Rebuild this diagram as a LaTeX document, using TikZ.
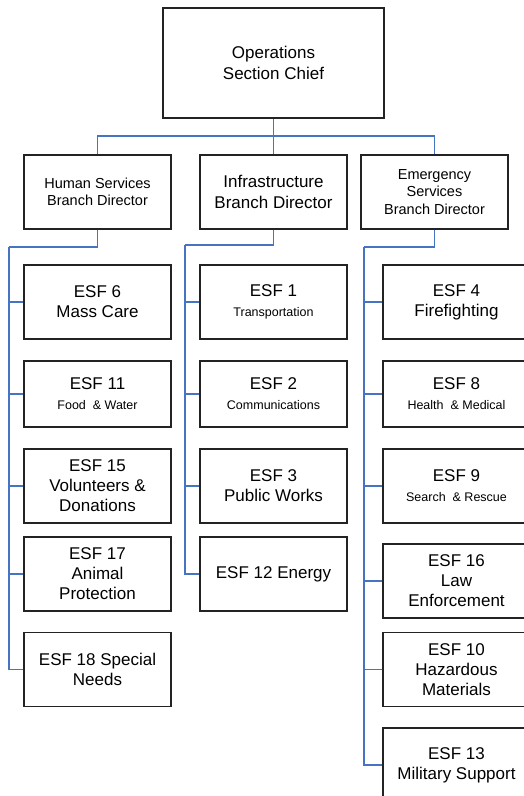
\documentclass[tikz,border=0pt]{standalone}
\usepackage{fontspec}
\setmainfont{Liberation Sans}
\usetikzlibrary{positioning}
\definecolor{L}{RGB}{70, 115, 196}
\definecolor{D}{RGB}{35, 35, 35}
\tikzset{
  box/.style={draw=D, line width=1.4pt, fill=white, minimum width=147pt,
    minimum height=74pt, inner sep=0pt, align=center,
    font=\fontsize{17}{20}\selectfont},
  low/.style={minimum height=66pt},
  small/.style={font=\fontsize{14.5}{17.5}\selectfont},
  conn/.style={draw=L, line width=1.3pt}
}
\newcommand{\sub}[1]{{\fontsize{12.5}{14}\selectfont #1}}

\begin{document}
\begin{tikzpicture}[x=1pt, y=-1pt]
   	\useasboundingbox (0,0) rectangle (523,796);
   	\fill[white] (0,0) rectangle (523,796);

	%Jefe de seccion
   	\node[box, minimum width=221pt, minimum height=110pt, font=\fontsize{17}{21}\selectfont] (chief) at (273.5,63) {Operations\\Section Chief};

	%Ramas
   	\node[box, small] (hs) at (97.5,192) {Human Services\\Branch Director};
   	\node[box, font=\fontsize{17}{21}\selectfont] (inf) at (273.5,192) {Infrastructure\\Branch Director};
   	\node[box, small] (es) at (434.5,192) {Emergency\\Services\\Branch Director};

	%Columna Human Services
   	\node[box] (esf6) at (97.5,302) {ESF 6\\Mass Care};
   	\node[box, low] (esf11) at (97.5,394) {ESF 11\\\sub{Food \ \& Water}};
   	\node[box] (esf15) at (97.5,486) {ESF 15\\Volunteers \&\\Donations};
   	\node[box] (esf17) at (97.5,574) {ESF 17\\Animal\\Protection};
   	\node[box] (esf18) at (97.5,669.5) {ESF 18 Special\\Needs};

	%Columna Infrastructure
   	\node[box] (esf1) at (273.5,302) {ESF 1\\\sub{Transportation}};
   	\node[box, low] (esf2) at (273.5,394) {ESF 2\\\sub{Communications}};
   	\node[box] (esf3) at (273.5,486) {ESF 3\\Public Works};
   	\node[box] (esf12) at (273.5,574) {ESF 12 Energy};

	%Columna Emergency Services
   	\node[box] (esf4) at (456.5,302) {ESF 4\\Firefighting};
   	\node[box, low] (esf8) at (456.5,394) {ESF 8\\\sub{Health \ \& Medical}};
   	\node[box] (esf9) at (456.5,486) {ESF 9\\\sub{Search \ \& Rescue}};
   	\node[box] (esf16) at (456.5,581) {ESF 16\\Law\\Enforcement};
   	\node[box] (esf10) at (456.5,669.5) {ESF 10\\Hazardous\\Materials};
   	\node[box] (esf13) at (456.5,765) {ESF 13\\Military Support};

	%Puntos de union
   	\coordinate (topbus) at (273.5,136);
   	\coordinate (hsbus) at (9,247);
   	\coordinate (infbus) at (185,245);
   	\coordinate (esbus) at (364,247);

	%Lineas del jefe a las ramas
   	\draw[conn] (chief) -- (topbus);
   	\draw[conn] (hs.north) |- (topbus) -| (es.north);
   	\draw[conn] (topbus) -- (inf.north);

	%Lineas de cada rama
   	\draw[conn] (hs.south) |- (hsbus);
   	\draw[conn] (inf.south) |- (infbus);
   	\draw[conn] (es.south) |- (esbus);
   	\foreach \n in {esf6,esf11,esf15,esf17,esf18}
   		\draw[conn] (\n.west) -| (hsbus);
   	\foreach \n in {esf1,esf2,esf3,esf12}
   		\draw[conn] (\n.west) -| (infbus);
   	\foreach \n in {esf4,esf8,esf9,esf16,esf10,esf13}
   		\draw[conn] (\n.west) -| (esbus);
\end{tikzpicture}
\end{document}
